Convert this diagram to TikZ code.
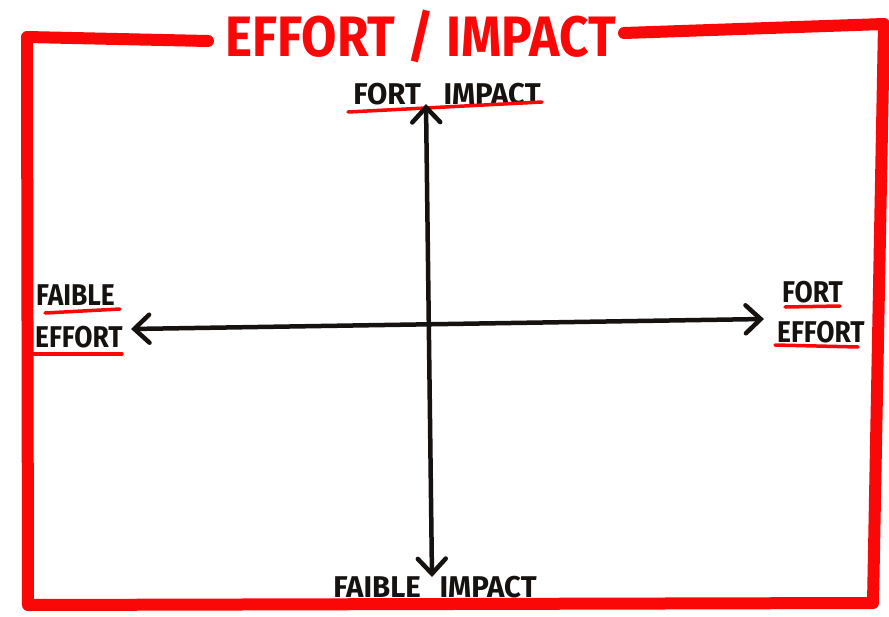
\documentclass[tikz,border=0pt]{standalone}
\usepackage{fontspec}
\usepackage{graphicx}
\setmainfont{Fira Sans}
\usetikzlibrary{arrows.meta}
\definecolor{mred}{RGB}{250,8,8}
\definecolor{ink}{RGB}{22,18,16}
\newcommand{\mylab}[1]{\scalebox{0.88}[1]{#1}}
\newcommand{\widelab}[1]{\scalebox{0.98}[1]{#1}}
\begin{document}
\begin{tikzpicture}[x=1pt,y=-1pt,
  frame/.style={draw=mred,line width=12pt,line cap=round,line join=round},
  axis/.style={draw=ink,line width=4.5pt,line cap=round,
    {Straight Barb[length=15pt,width=28pt,line cap=round]}-{Straight Barb[length=15pt,width=28pt,line cap=round]}},
  lbl/.style={text=ink,font=\bfseries\fontsize{30}{30}\selectfont,inner sep=0pt,anchor=base},
  uline/.style={draw=mred,line width=3.5pt,line cap=round}]
\useasboundingbox (0,0) rectangle (889,616);
% frame
\draw[frame] (208,41) -- (27,37) -- (28,605) -- (873,603) -- (884,24) -- (624,33);
% title
\node[text=mred,font=\bfseries\fontsize{57}{57}\selectfont,inner sep=0pt,anchor=base] (title) at (421,56) {\scalebox{0.9}[1]{EFFORT / IMPACT}};
% labels
\node[lbl] (fortimpact) at (447,104) {\widelab{FORT\hspace{16pt} IMPACT}};
\node[lbl] (faibleimpact) at (435,597) {\widelab{FAIBLE\hspace{12pt} IMPACT}};
\node[lbl,anchor=base west] (faible) at (36,305) {\mylab{FAIBLE}};
\node[lbl,anchor=base west] (effortl) at (35,347) {\mylab{EFFORT}};
\node[lbl,anchor=base west] (fort) at (782,302) {\mylab{FORT}};
\node[lbl,anchor=base west] (effortr) at (777,342) {\mylab{EFFORT}};
% underlines
\draw[uline] (348,112) -- (542,102);
\draw[uline] (45,313) -- (120,309);
\draw[uline] (33,354) -- (122,354);
\draw[uline] (785,307) -- (840,306);
\draw[uline] (775,345) -- (858,347);
% axes
\coordinate (vt) at (426,104);
\coordinate (vb) at (432,577);
\coordinate (hl) at (131,329);
\coordinate (hr) at (764,319);
\draw[axis] (vb) -- (vt);
\draw[axis] (hl) -- (hr);
\end{tikzpicture}
\end{document}
